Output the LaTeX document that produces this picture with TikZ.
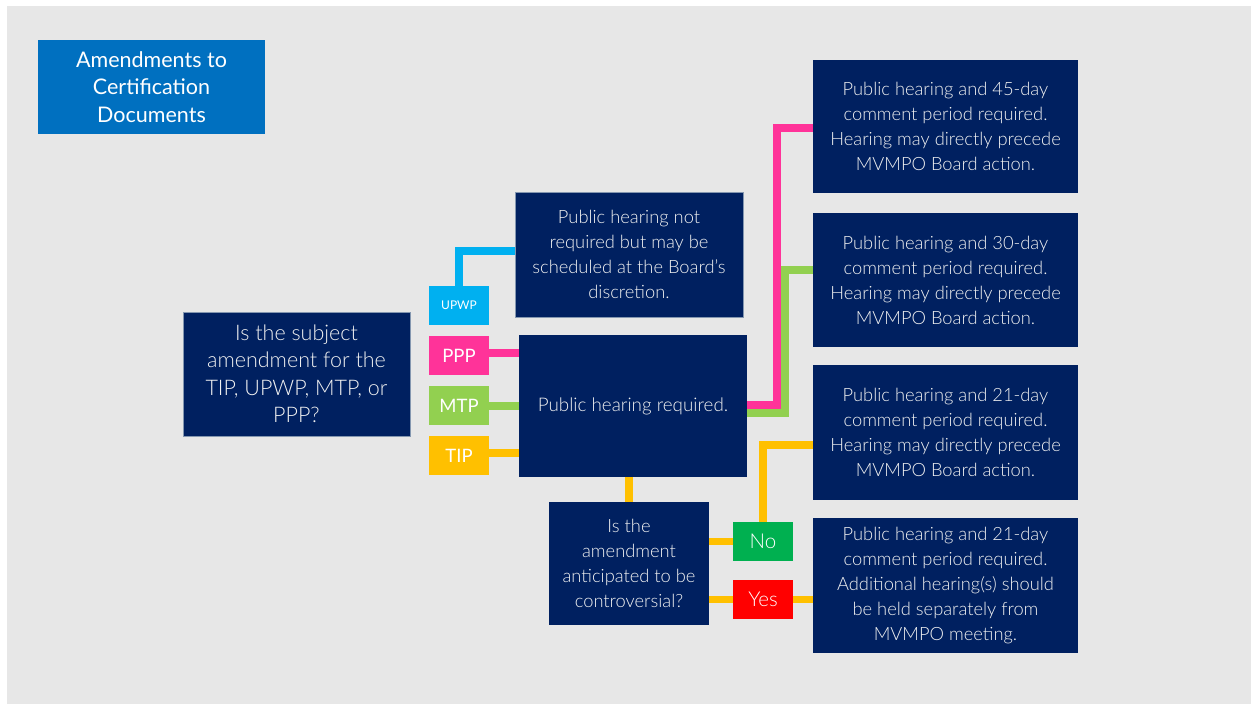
\documentclass[tikz,border=0pt]{standalone}
\usepackage{fontspec}
\setmainfont{Lato}[UprightFont={* Light},BoldFont={* Regular}]
\newfontfamily\regfont{Lato}
\definecolor{navy}{HTML}{002060}
\definecolor{bggray}{HTML}{E7E7E7}
\definecolor{titleblue}{HTML}{0070C0}
\definecolor{upwpc}{HTML}{00B0F0}
\definecolor{pppc}{HTML}{FF3399}
\definecolor{mtpc}{HTML}{92D050}
\definecolor{tipc}{HTML}{FFC000}
\definecolor{noc}{HTML}{00B050}
\definecolor{yesc}{HTML}{FF0000}
\definecolor{txt}{HTML}{F2F2F2}
\definecolor{edge}{HTML}{8497B0}
\tikzset{
  darkbox/.style={fill=navy, text=txt, align=center, inner sep=0pt, font=\fontsize{18.3}{25}\selectfont},
  tagbox/.style={minimum width=60pt, minimum height=39pt, inner sep=0pt, text=white},
  conn/.style={line width=7.5pt, line join=miter, line cap=butt},
}
\begin{document}
\begin{tikzpicture}[x=1pt,y=-1pt]
\useasboundingbox (0,0) rectangle (1251,704);
\fill[white] (0,0) rectangle (1251,704);
\fill[bggray] (7,6) rectangle (1251,704);

% title
\node[fill=titleblue, text=white, align=center, minimum width=227pt, minimum height=94pt, inner sep=0pt,
  font=\regfont\fontsize{21.5}{27.5}\selectfont] (title) at (151.5,87) {Amendments to\\Certification\\Documents};

% question 1
\node[darkbox, draw=edge, line width=0.6pt, minimum width=227pt, minimum height=124pt, font=\fontsize{21.5}{27.5}\selectfont] (q1) at (296.5,374)
  {Is the subject\\amendment for the\\TIP, UPWP, MTP, or\\PPP?};

% tags
\node[tagbox, fill=upwpc, font=\regfont\fontsize{12}{14}\selectfont] (upwp) at (459,305.5) {UPWP};
\node[tagbox, fill=pppc, font=\regfont\fontsize{18.5}{20}\selectfont] (ppp) at (459,355.5) {PPP};
\node[tagbox, fill=mtpc, font=\regfont\fontsize{18.5}{20}\selectfont] (mtp) at (459,405.5) {MTP};
\node[tagbox, fill=tipc, font=\regfont\fontsize{18.5}{20}\selectfont] (tip) at (459,455.5) {TIP};

% middle boxes
\node[darkbox, draw=edge, line width=0.6pt, minimum width=228pt, minimum height=125pt] (notreq) at (629,254.5)
  {Public hearing not\\required but may be\\scheduled at the Board's\\discretion.};
\node[darkbox, minimum width=228pt, minimum height=142pt, font=\fontsize{18.8}{25}\selectfont] (req) at (633,406) {Public hearing required.};
\node[darkbox, minimum width=160pt, minimum height=123pt] (q2) at (629,563.5)
  {Is the\\amendment\\anticipated to be\\controversial?};

\node[tagbox, fill=noc, font=\fontsize{20.5}{22}\selectfont] (no) at (763,541.5) {No};
\node[tagbox, fill=yesc, font=\fontsize{20.5}{22}\selectfont] (yes) at (763,599.5) {Yes};

% right boxes
\node[darkbox, minimum width=265pt, minimum height=133pt] (r1) at (945.5,126.5)
  {Public hearing and 45-day\\comment period required.\\Hearing may directly precede\\MVMPO Board action.};
\node[darkbox, minimum width=265pt, minimum height=134pt] (r2) at (945.5,280)
  {Public hearing and 30-day\\comment period required.\\Hearing may directly precede\\MVMPO Board action.};
\node[darkbox, minimum width=265pt, minimum height=135pt] (r3) at (945.5,432.5)
  {Public hearing and 21-day\\comment period required.\\Hearing may directly precede\\MVMPO Board action.};
\node[darkbox, minimum width=265pt, minimum height=135pt] (r4) at (945.5,585.5)
  {Public hearing and 21-day\\comment period required.\\Additional hearing(s) should\\be held separately from\\MVMPO meeting.};

% connectors
\draw[conn, upwpc] (upwp.north) |- (notreq.west |- 0,251);
\draw[conn, pppc] (ppp.east |- 0,353) -- (req.west |- 0,353);
\draw[conn, mtpc] (mtp.east |- 0,406) -- (req.west |- 0,406);
\draw[conn, tipc] (tip.east |- 0,453) -- (req.west |- 0,453);

\draw[conn, pppc] (req.east |- 0,405) -- (777,405) -- (777,128) -- (r1.west |- 0,128);
\draw[conn, mtpc] (req.east |- 0,413) -- (785,413) -- (785,270) -- (r2.west |- 0,270);

\draw[conn, tipc] (q2.north) -- (q2.north |- req.south);
\draw[conn, tipc] (q2.east |- no.west) -- (no.west);
\draw[conn, tipc] (q2.east |- yes.west) -- (yes.west);
\draw[conn, tipc] (yes.east) -- (r4.west |- yes.east);
\draw[conn, tipc] (no.north) |- (r3.west |- 0,445);
\end{tikzpicture}
\end{document}
